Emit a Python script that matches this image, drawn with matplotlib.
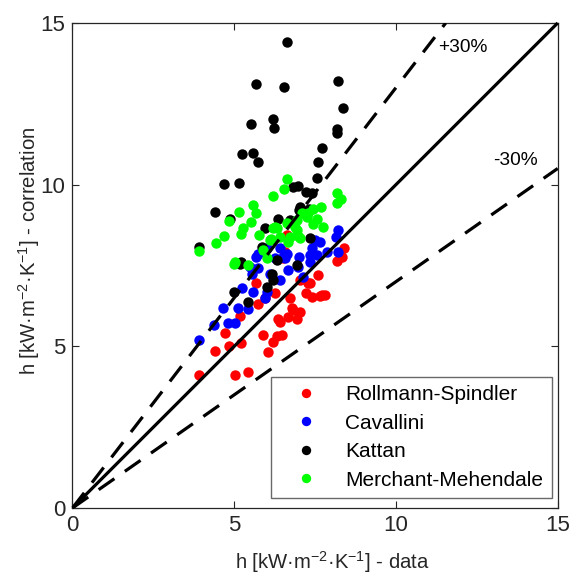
import matplotlib
matplotlib.use("Agg")
import matplotlib.pyplot as plt
import numpy as np

plt.rcParams['font.family'] = ['Liberation Sans', 'DejaVu Sans']
plt.rcParams['mathtext.fontset'] = 'custom'
plt.rcParams['mathtext.rm'] = 'Liberation Sans'
plt.rcParams['mathtext.it'] = 'Liberation Sans:italic'
plt.rcParams['mathtext.bf'] = 'Liberation Sans:bold'

# ---- data ----
red_x = [3.92, 4.40, 4.71, 4.85, 5.02, 5.18, 5.20, 5.44, 5.67, 5.74, 5.90, 6.05, 6.21, 6.26,
         6.31, 6.36, 6.47, 6.41, 6.52, 6.57, 6.67, 6.72, 6.78, 6.83, 6.93, 7.03, 7.03, 7.22,
         7.29, 7.34, 7.39, 7.60, 7.65, 7.70, 8.17, 8.32, 8.39, 5.95, 6.62, 7.80]
red_y = [4.11, 4.85, 5.40, 5.01, 4.11, 5.94, 5.11, 4.21, 6.95, 6.32, 5.35, 4.83, 5.14, 6.64,
         5.32, 5.83, 5.35, 5.76, 7.72, 7.92, 5.91, 6.48, 6.17, 6.12, 5.83, 6.07, 7.05, 6.66,
         6.95, 6.96, 6.53, 7.20, 6.55, 6.58, 7.64, 7.77, 8.03, 6.50, 8.44, 6.58]

blue_x = [3.91, 4.38, 4.66, 4.82, 5.02, 5.13, 5.23, 5.43, 5.49, 5.54, 5.59, 5.67, 5.74, 5.74,
          5.95, 6.00, 6.00, 6.10, 6.26, 6.41, 6.41, 6.52, 6.57, 6.62, 6.67, 6.98, 7.01, 7.13,
          7.34, 7.34, 7.39, 7.50, 7.55, 7.65, 7.86, 8.15, 8.22, 8.22]
blue_y = [5.19, 5.66, 6.19, 5.73, 5.73, 6.17, 6.79, 6.14, 7.46, 7.25, 6.67, 7.77, 7.41, 7.87,
          6.48, 6.69, 8.03, 7.25, 7.72, 8.03, 7.05, 7.77, 7.72, 7.87, 7.36, 7.46, 7.77, 7.15,
          7.82, 7.61, 8.03, 8.28, 7.82, 8.23, 7.92, 8.39, 8.61, 7.92]

black_x = [6.62, 5.68, 6.53, 8.20, 8.35, 5.52, 6.20, 6.24, 8.19, 8.19, 5.25, 5.59, 5.75, 7.72,
           7.60, 7.56, 4.69, 5.15, 6.98, 6.83, 7.22, 7.39, 7.31, 7.01, 4.41, 4.87, 6.36, 6.72,
           5.95, 7.34, 3.92, 5.87, 5.21, 6.18, 5.00, 5.43, 6.31, 6.93, 6.21, 6.00, 5.18, 7.03]
black_y = [14.41, 13.11, 13.02, 13.19, 12.36, 11.88, 12.02, 11.76, 11.72, 11.60, 10.96, 10.99,
           10.69, 11.13, 10.70, 10.22, 10.02, 10.06, 9.97, 9.93, 9.78, 9.73, 9.26, 9.21, 9.16,
           8.93, 8.93, 8.90, 8.66, 8.36, 8.06, 8.08, 7.61, 7.25, 6.69, 6.36, 7.67, 7.51, 7.05,
           6.84, 7.56, 9.31]

green_x = [6.62, 6.53, 6.19, 8.19, 8.30, 5.59, 5.67, 5.16, 4.85, 5.52, 5.26, 5.21, 4.69, 4.43,
           3.92, 5.77, 6.14, 6.26, 5.02, 7.68, 7.42, 7.08, 7.26, 7.55, 6.93, 7.44, 7.75, 6.88,
           6.41, 6.72, 6.98, 6.10, 5.00, 5.43, 6.21, 5.89, 6.00, 6.67, 7.03, 6.31, 6.62, 6.93,
           7.29, 8.17]
green_y = [10.17, 9.86, 9.64, 9.73, 9.55, 9.37, 9.13, 9.16, 8.88, 8.85, 8.65, 8.46, 8.42, 8.20,
           7.94, 8.44, 8.31, 8.70, 7.61, 9.31, 9.26, 9.11, 9.00, 8.93, 8.90, 8.78, 8.68, 8.70,
           8.39, 8.37, 8.41, 8.28, 7.54, 7.51, 8.65, 7.97, 7.72, 8.23, 8.34, 8.65, 8.80, 8.59,
           9.11, 9.42]

series_names = ['Rollmann-Spindler', 'Cavallini', 'Kattan', 'Merchant-Mehendale']
series_colors = ['#ff0000', '#0000ff', '#000000', '#00ff00']

ticks = [0, 5, 10, 15]
lim = 15
band = 0.30

# ---- figure ----
fig = plt.figure(figsize=(5.74, 5.74), dpi=100)
ax = fig.add_axes([0.1263, 0.115, 0.9716 - 0.1263, 0.960 - 0.115])

ms = 7.5
for xs, ys, name, c in zip([red_x, blue_x, black_x, green_x],
                           [red_y, blue_y, black_y, green_y],
                           series_names, series_colors):
    ax.plot(xs, ys, 'o', color=c, markersize=ms, markeredgewidth=0, label=name, zorder=3)

xl = np.array([0, lim])
ax.plot(xl, xl, color='black', lw=2.3, zorder=4, clip_on=False, solid_capstyle='butt')
xu = np.array([0, lim / (1 + band)])
ax.plot(xu, xu * (1 + band), color='black', lw=2.3, dashes=(6.0, 4.0), zorder=4,
        dash_capstyle='butt')
ax.plot(xl, xl * (1 - band), color='black', lw=2.3, dashes=(6.0, 4.0), zorder=4,
        dash_capstyle='butt')

ax.text(12.07, 14.25, '+30%', fontsize=13.8, ha='center', va='center')
ax.text(13.68, 10.76, '-30%', fontsize=13.8, ha='center', va='center')

ax.set_xlim(0, lim)
ax.set_ylim(0, lim)
ax.set_xticks(ticks)
ax.set_yticks(ticks)
ax.tick_params(direction='in', top=True, right=True, length=5, width=0.8,
               labelsize=16, colors='#262626', labelcolor='#262626', pad=5)
for s in ax.spines.values():
    s.set_color('#262626')
    s.set_linewidth(0.9)

ax.set_xlabel('h [kW·m$^{-2}$·K$^{-1}$] - data', fontsize=14.6, color='#262626')
ax.set_ylabel('h [kW·m$^{-2}$·K$^{-1}$] - correlation', fontsize=14.6, color='#262626')
ax.xaxis.set_label_coords(0.535, -0.084)
ax.yaxis.set_label_coords(-0.063, 0.53)

leg = ax.legend(loc='lower right', bbox_to_anchor=(0.9876, 0.020), borderaxespad=0,
                fontsize=15, frameon=True, fancybox=False, markerscale=0.9,
                handletextpad=0.55, borderpad=0.42, labelspacing=0.45, handlelength=2.6)
leg.get_frame().set_edgecolor('#444444')
leg.get_frame().set_linewidth(1.0)
leg.set_zorder(5)

fig.savefig('out.png', dpi=100)
